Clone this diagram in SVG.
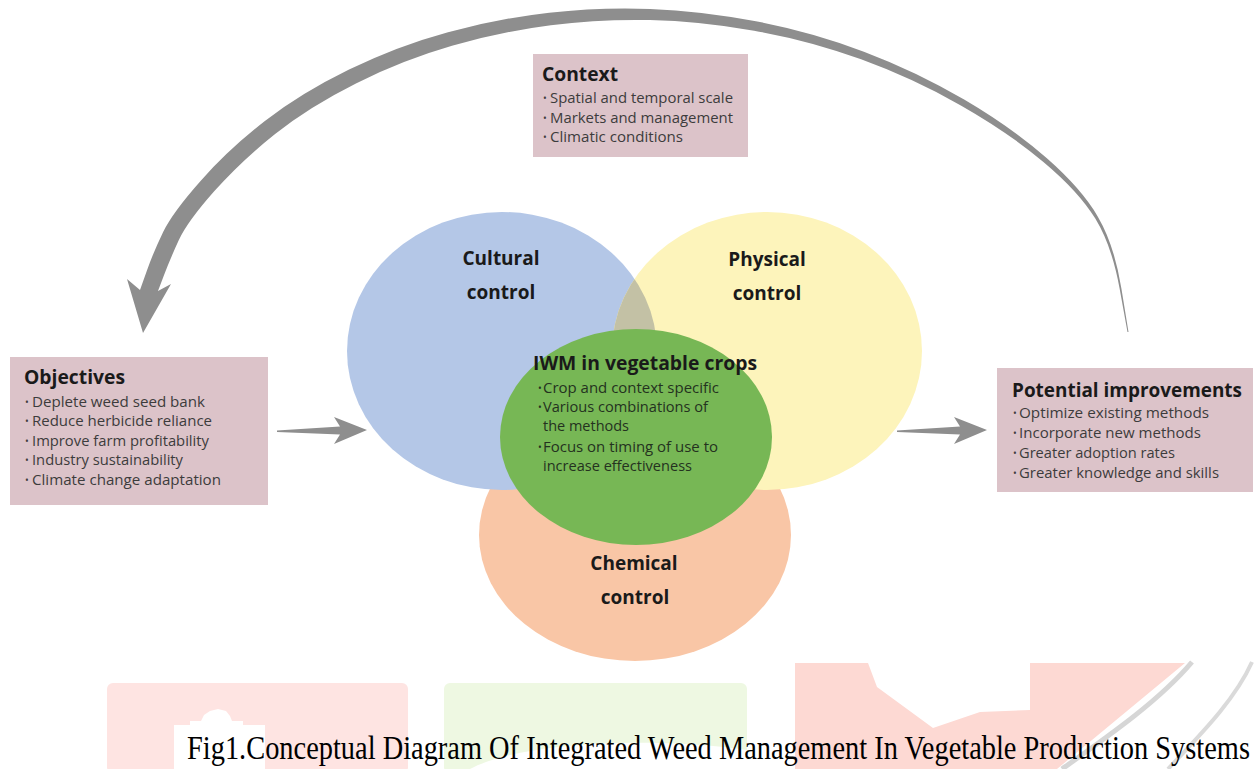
<svg xmlns="http://www.w3.org/2000/svg" width="1254" height="769" viewBox="0 0 1254 769">
<style>
.box{fill:#dcc3c9}
.ttl{font-family:"Open Sans","Liberation Sans",sans-serif;font-weight:700;font-size:19px;fill:#1a1a1a}
.itm{font-family:"Open Sans","Liberation Sans",sans-serif;font-size:15px;fill:#3c3c3c}
.gitm{font-family:"Open Sans","Liberation Sans",sans-serif;font-size:15px;fill:#24321f}
.bul{font-size:10px}
.lbl{font-family:"Open Sans","Liberation Sans",sans-serif;font-weight:700;font-size:19px;fill:#1a1a1a;text-anchor:middle}
.arr{fill:#8e8e8e}
.cap{font-family:"Liberation Serif","Times New Roman",serif;font-size:34px;fill:#000}
</style>
<defs>
<clipPath id="clipYellow"><ellipse cx="767" cy="351" rx="155" ry="139"/></clipPath>
</defs>
<rect width="1254" height="769" fill="#fff"/>
<g id="watermark">
<rect x="107" y="683" width="301" height="90" rx="6" fill="#fee4e2"/>
<polygon points="174,769 174,725 190,725 190,721 201,721 204,715 210,711 218,709 226,711 230,716 232,721 243,721 243,725 265,725 265,769" fill="#fff"/>
<rect x="444" y="683" width="303" height="90" rx="6" fill="#eef8e2"/>
<path d="M470,769 C520,742 650,736 747,750 L747,769 Z" fill="#fff"/>
<path d="M795,663 L868,663 L877,687 L933,728 L980,712 L1030,710 L1030,663 L1185,663 L1057,769 L795,769 Z" fill="#fdd9d3"/>
<path d="M1192,662 C1160,700 1110,735 1062,769" fill="none" stroke="#d6d6d6" stroke-width="5"/>
<path d="M1252,662 C1235,700 1200,735 1168,769" fill="none" stroke="#dadada" stroke-width="4"/>
</g>
<g id="connectors">
<path class="arr" d="M1128.5,331.9 L1121.35,288.25 Q1114.2,244.6 1097.85,216.65 Q1081.5,188.7 1046.6,158.1 Q1011.7,127.5 964.15,99.55 Q916.6,71.6 863.9,51.65 Q811.2,31.7 755.9,21.25 Q700.6,10.8 650.15,8.9 Q599.7,7.0 549.2,12.7 Q498.7,18.4 448,32.2 Q397.3,46 349.05,69.6 Q300.8,93.2 264.9,121.05 Q229,148.9 200.8,180.65 Q172.6,212.4 163.15,231.9 Q153.7,251.4 146.85,270.7 L140,290 L127,279 L143,333 L171,284 L158,291 L164.15,274.8 Q170.3,258.6 178.85,240.1 Q187.4,221.6 214.2,191.35 Q241,161.1 275.1,133.95 Q309.2,106.8 355.95,83.4 Q402.7,60 452,45.8 Q501.3,31.6 550.8,25.3 Q600.3,19 649.85,20.1 Q699.4,21.2 754.1,30.75 Q808.8,40.3 861.1,59.35 Q913.4,78.4 960.85,105.45 Q1008.3,132.5 1043.4,161.9 Q1078.5,191.3 1095.15,218.35 Q1111.8,245.4 1119.65,288.75 L1127.5,332.1 Z"/>
<polygon class="arr" points="277,430.5 340,426.5 334,417 367,430 334,444 340,434.5 277,432"/>
<polygon class="arr" points="897,430.5 960,426.5 954,417 987,430 954,444 960,434.5 897,432"/>
</g>
<g id="chemical">
<ellipse cx="635" cy="535" rx="156" ry="126" fill="#f9c6a6"/>
</g>
<g id="cultural">
<ellipse cx="502" cy="351" rx="155" ry="139" fill="#b4c7e7"/>
</g>
<g id="physical">
<ellipse cx="767" cy="351" rx="155" ry="139" fill="#fdf4bb"/>
<ellipse cx="502" cy="351" rx="155" ry="139" fill="#c3c1a5" clip-path="url(#clipYellow)"/>
</g>
<g id="iwm">
<ellipse cx="636" cy="437" rx="136" ry="108" fill="#77b755"/>
<text class="ttl" x="533" y="370" textLength="224" lengthAdjust="spacingAndGlyphs" fill="#111">IWM in vegetable crops</text>
<text class="gitm"><tspan class="bul" x="538" y="392">•</tspan><tspan x="543" y="393" textLength="176" lengthAdjust="spacingAndGlyphs">Crop and context specific</tspan></text>
<text class="gitm"><tspan class="bul" x="538" y="411">•</tspan><tspan x="543" y="412" textLength="165" lengthAdjust="spacingAndGlyphs">Various combinations of</tspan></text>
<text class="gitm" x="543" y="431" textLength="86" lengthAdjust="spacingAndGlyphs">the methods</text>
<text class="gitm"><tspan class="bul" x="538" y="451">•</tspan><tspan x="543" y="452" textLength="175" lengthAdjust="spacingAndGlyphs">Focus on timing of use to</tspan></text>
<text class="gitm" x="543" y="471" textLength="149" lengthAdjust="spacingAndGlyphs">increase effectiveness</text>
</g>
<g id="labels">
<text class="lbl" x="501" y="265">Cultural</text>
<text class="lbl" x="501" y="299">control</text>
<text class="lbl" x="767" y="266">Physical</text>
<text class="lbl" x="767" y="300">control</text>
<text class="lbl" x="634" y="570">Chemical</text>
<text class="lbl" x="635" y="604">control</text>
</g>
<g id="context">
<rect class="box" x="533" y="54" width="215" height="103"/>
<text class="ttl" x="542" y="81" textLength="76" lengthAdjust="spacingAndGlyphs">Context</text>
<text class="itm"><tspan class="bul" x="543" y="102">•</tspan><tspan x="550" y="103" textLength="183" lengthAdjust="spacingAndGlyphs">Spatial and temporal scale</tspan></text>
<text class="itm"><tspan class="bul" x="543" y="122">•</tspan><tspan x="550" y="123" textLength="183" lengthAdjust="spacingAndGlyphs">Markets and management</tspan></text>
<text class="itm"><tspan class="bul" x="543" y="141">•</tspan><tspan x="550" y="142" textLength="133" lengthAdjust="spacingAndGlyphs">Climatic conditions</tspan></text>
</g>
<g id="objectives">
<rect class="box" x="10" y="357" width="258" height="148"/>
<text class="ttl" x="24" y="384" textLength="101" lengthAdjust="spacingAndGlyphs">Objectives</text>
<text class="itm"><tspan class="bul" x="25" y="406">•</tspan><tspan x="32" y="407" textLength="173" lengthAdjust="spacingAndGlyphs">Deplete weed seed bank</tspan></text>
<text class="itm"><tspan class="bul" x="25" y="425">•</tspan><tspan x="32" y="426" textLength="180" lengthAdjust="spacingAndGlyphs">Reduce herbicide reliance</tspan></text>
<text class="itm"><tspan class="bul" x="25" y="445">•</tspan><tspan x="32" y="446" textLength="177" lengthAdjust="spacingAndGlyphs">Improve farm profitability</tspan></text>
<text class="itm"><tspan class="bul" x="25" y="464">•</tspan><tspan x="32" y="465" textLength="151" lengthAdjust="spacingAndGlyphs">Industry sustainability</tspan></text>
<text class="itm"><tspan class="bul" x="25" y="484">•</tspan><tspan x="32" y="485" textLength="189" lengthAdjust="spacingAndGlyphs">Climate change adaptation</tspan></text>
</g>
<g id="improvements">
<rect class="box" x="997" y="368" width="256" height="124"/>
<text class="ttl" x="1012" y="397" textLength="230" lengthAdjust="spacingAndGlyphs">Potential improvements</text>
<text class="itm"><tspan class="bul" x="1013" y="417">•</tspan><tspan x="1019" y="418" textLength="190" lengthAdjust="spacingAndGlyphs">Optimize existing methods</tspan></text>
<text class="itm"><tspan class="bul" x="1013" y="437">•</tspan><tspan x="1019" y="438" textLength="182" lengthAdjust="spacingAndGlyphs">Incorporate new methods</tspan></text>
<text class="itm"><tspan class="bul" x="1013" y="457">•</tspan><tspan x="1019" y="458" textLength="156" lengthAdjust="spacingAndGlyphs">Greater adoption rates</tspan></text>
<text class="itm"><tspan class="bul" x="1013" y="477">•</tspan><tspan x="1019" y="478" textLength="200" lengthAdjust="spacingAndGlyphs">Greater knowledge and skills</tspan></text>
</g>
<text class="cap" x="187" y="759" textLength="1063" lengthAdjust="spacingAndGlyphs">Fig1.Conceptual Diagram Of Integrated Weed Management In Vegetable Production Systems</text>
</svg>
